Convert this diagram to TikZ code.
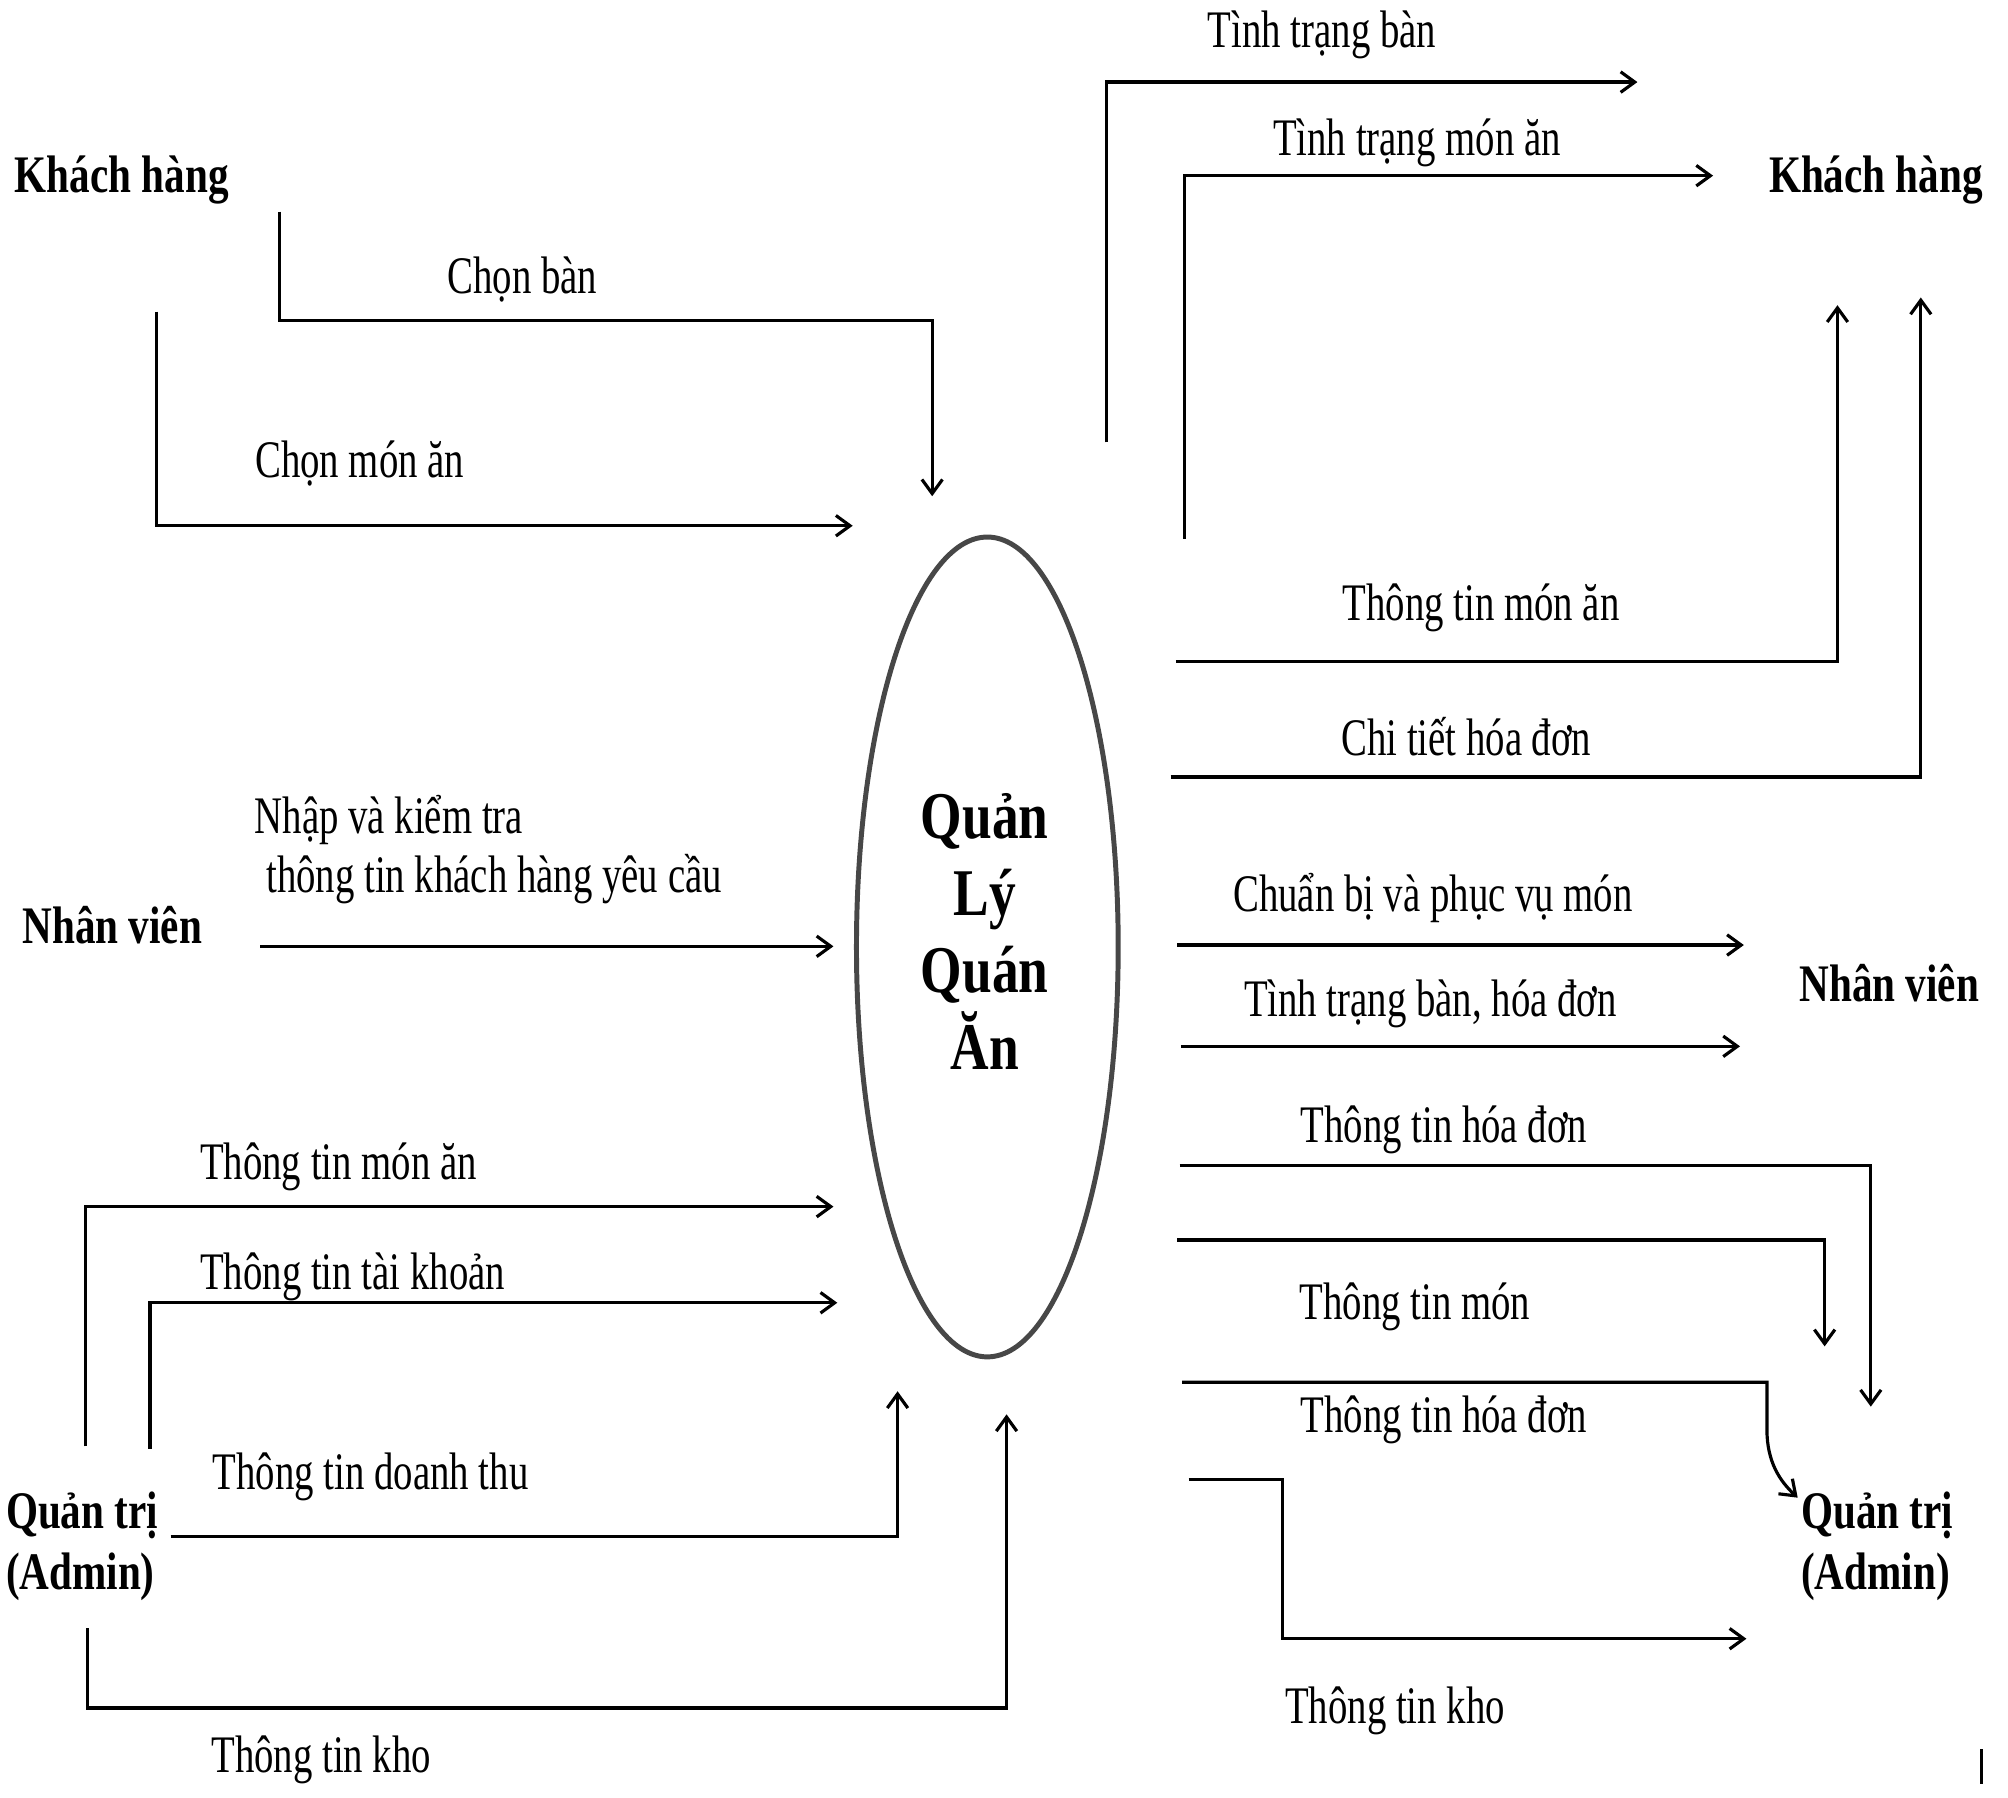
\documentclass[tikz,border=0pt]{standalone}
\usepackage{fontspec}
\setmainfont{Liberation Serif}
\newfontfamily\lblfont{Liberation Serif}[FakeStretch=0.735]
\newfontfamily\entfont{Liberation Serif}[FakeStretch=0.78]
\newfontfamily\procfont{Liberation Serif}[FakeStretch=0.8]
\usetikzlibrary{arrows.meta,shapes.geometric}
\begin{document}
\begin{tikzpicture}[x=0.01cm,y=-0.01cm,
  lbl/.style={font=\lblfont\fontsize{11.7}{13.1}\selectfont, inner sep=0pt, anchor=base},
  ent/.style={font=\entfont\bfseries\fontsize{11.7}{13.6}\selectfont, inner sep=0pt},
  proctext/.style={font=\procfont\bfseries\fontsize{14.8}{17.07}\selectfont, inner sep=0pt, align=center},
  procshape/.style={ellipse, draw=black!72, line width=1.1pt, minimum width=2.04cm, minimum height=6.39cm, inner sep=0pt},
  flow/.style={line width=0.7pt, -{Straight Barb[length=1.1mm,width=1.6mm]}},
  plain/.style={line width=0.7pt}]
\useasboundingbox (0,0) rectangle (1566,1402);

% process
\node[procshape] (proc) at (770,738.5) {};
\node[proctext] (proclbl) at (768,726.5) {Quản\\Lý\\Quán\\Ăn};

% external entities
\node[ent, anchor=base] (khL) at (95,150) {Khách hàng};
\node[ent, anchor=base] (khR) at (1463,150) {Khách hàng};
\node[ent, anchor=base] (nvL) at (87.5,736) {Nhân viên};
\node[ent, anchor=base] (nvR) at (1473.5,781) {Nhân viên};
\node[ent, anchor=west, align=left] (qtL) at (4,1206) {Quản trị\\(Admin)};
\node[ent, anchor=west, align=left] (qtR) at (1404,1206) {Quản trị\\(Admin)};

% labels
\node[lbl] (l1) at (407.5,229) {Chọn bàn};
\node[lbl] (l2) at (280.5,372) {Chọn món ăn};
\node[lbl] (l3) at (1031,37) {Tình trạng bàn};
\node[lbl] (l4) at (1105,121) {Tình trạng món ăn};
\node[lbl] (l5) at (1155,484) {Thông tin món ăn};
\node[lbl] (l6) at (1143.5,589) {Chi tiết hóa đơn};
\node[lbl, anchor=west, align=left] (l7) at (198,662.5) {Nhập và kiểm tra\\\hspace*{0.09cm}thông tin khách hàng yêu cầu};
\node[lbl] (l8) at (1117.5,711) {Chuẩn bị và phục vụ món};
\node[lbl] (l9) at (1115.5,793) {Tình trạng bàn, hóa đơn};
\node[lbl] (l10) at (1126,891) {Thông tin hóa đơn};
\node[lbl] (l11) at (1103.5,1029) {Thông tin món};
\node[lbl] (l12) at (1126,1117) {Thông tin hóa đơn};
\node[lbl] (l13) at (1088,1344) {Thông tin kho};
\node[lbl] (l14) at (264,920) {Thông tin món ăn};
\node[lbl] (l15) at (275,1006) {Thông tin tài khoản};
\node[lbl] (l16) at (289,1162) {Thông tin doanh thu};
\node[lbl] (l17) at (250.5,1382) {Thông tin kho};

% connector end points
\coordinate (cbS) at (218,165);  \coordinate (cbC) at (727,250);  \coordinate (cbE) at (727,387);
\coordinate (cmS) at (122,243);  \coordinate (cmE) at (665,410);
\coordinate (tbS) at (863,345);  \coordinate (tbE) at (1277,64);
\coordinate (tmS) at (924,420);  \coordinate (tmE) at (1336,137);
\coordinate (imS) at (917,516);  \coordinate (imE) at (1433,238);
\coordinate (hdS) at (913,606);  \coordinate (hdE) at (1498,232);
\coordinate (nkS) at (203,738);  \coordinate (nkE) at (650,738);
\coordinate (cpS) at (918,737);  \coordinate (cpE) at (1360,737);
\coordinate (thS) at (921,816);  \coordinate (thE) at (1357,816);
\coordinate (ihS) at (920,909);  \coordinate (ihE) at (1459,1097);
\coordinate (itS) at (918,967);  \coordinate (itE) at (1423,1050);
\coordinate (ih2S) at (922,1078); \coordinate (ih2C) at (1378,1078); \coordinate (ih2D) at (1378,1115); \coordinate (ih2E) at (1402,1168);
\coordinate (ikS) at (927,1154); \coordinate (ikC) at (1000,1278); \coordinate (ikE) at (1362,1278);
\coordinate (amS) at (67,1128);  \coordinate (amE) at (650,941);
\coordinate (akS) at (117,1130); \coordinate (akE) at (653,1016);
\coordinate (adS) at (133,1198); \coordinate (adE) at (700,1085);
\coordinate (aoS) at (68,1270);  \coordinate (aoC) at (785,1332); \coordinate (aoE) at (785,1103);
\coordinate (barA) at (1545,1364); \coordinate (barB) at (1545,1391);

% connectors
\draw[flow] (cbS) |- (cbC) -- (cbE);
\draw[flow] (cmS) |- (cmE);
\draw[flow] (tbS) |- (tbE);
\draw[flow] (tmS) |- (tmE);
\draw[flow] (imS) -| (imE);
\draw[flow] (hdS) -| (hdE);
\draw[flow] (nkS) -- (nkE);
\draw[flow] (cpS) -- (cpE);
\draw[flow] (thS) -- (thE);
\draw[flow] (ihS) -| (ihE);
\draw[flow] (itS) -| (itE);
\draw[flow] (ih2S) -- (ih2C) -- (ih2D) .. controls (1378,1140) and (1388,1155) .. (ih2E);
\draw[flow] (ikS) -| (ikC) -- (ikE);
\draw[flow] (amS) |- (amE);
\draw[flow] (akS) |- (akE);
\draw[flow] (adS) -| (adE);
\draw[flow] (aoS) |- (aoC) -- (aoE);
\draw[plain] (barA) -- (barB);
\end{tikzpicture}
\end{document}
